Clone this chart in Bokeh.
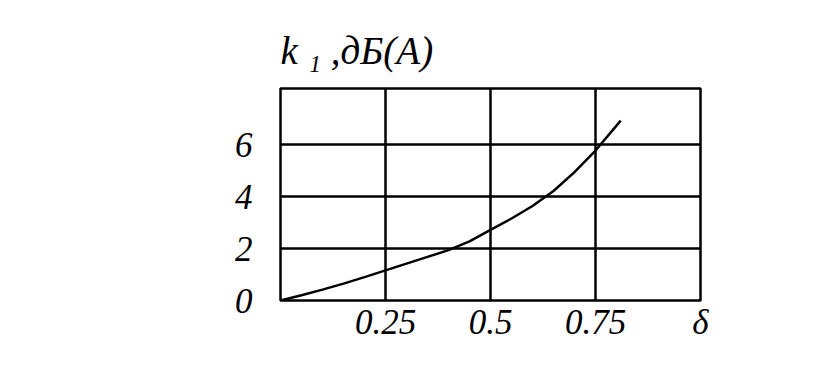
from bokeh.plotting import figure
from bokeh.models import FixedTicker
from bokeh.embed import file_html
from bokeh.resources import INLINE

# data
delta = [0.0, 0.05, 0.1, 0.15, 0.2, 0.25, 0.3, 0.35, 0.4, 0.45, 0.5,
         0.55, 0.6, 0.65, 0.7, 0.75, 0.81]
k1 = [0.0, 0.2, 0.42, 0.65, 0.9, 1.16, 1.42, 1.68, 1.94, 2.28, 2.72,
      3.16, 3.64, 4.22, 4.95, 5.78, 6.93]

x_ticks = [0.25, 0.5, 0.75, 1.0]
x_tick_labels = {0.25: "0.25", 0.5: "0.5", 0.75: "0.75", 1.0: "δ"}
y_ticks = [0, 2, 4, 6]
y_tick_labels = {0: "0", 2: "2", 4: "4", 6: "6"}
y_title = "k ₁ ,дБ(A)"

FONT = "Liberation Serif"

p = figure(width=814, height=367, output_backend="svg", toolbar_location=None,
           x_range=(0, 1.0), y_range=(0, 8.17),
           min_border_left=280, min_border_right=114,
           min_border_top=88, min_border_bottom=67)
p.background_fill_color = "white"
p.border_fill_color = "white"
p.outline_line_color = "black"
p.outline_line_width = 2.5

p.line(delta, k1, line_color="black", line_width=2.5)

for ax in (p.xaxis, p.yaxis):
    ax.axis_line_color = None
    ax.major_tick_line_color = None
    ax.minor_tick_line_color = None
    ax.major_label_text_font = FONT
    ax.major_label_text_font_style = "italic"
    ax.major_label_text_font_size = "35px"
    ax.major_label_text_color = "black"

p.xaxis.ticker = FixedTicker(ticks=x_ticks)
p.xaxis.major_label_overrides = x_tick_labels
p.xaxis.major_label_standoff = -4
p.yaxis.ticker = FixedTicker(ticks=y_ticks)
p.yaxis.major_label_standoff = 22
p.yaxis.major_label_overrides = y_tick_labels

p.xgrid.ticker = FixedTicker(ticks=[0.25, 0.5, 0.75])
p.ygrid.ticker = FixedTicker(ticks=[2, 4, 6])
for g in (p.xgrid, p.ygrid):
    g.grid_line_color = "black"
    g.grid_line_width = 2.5
    g.grid_line_alpha = 1.0

p.title.text = y_title
p.title.text_font = FONT
p.title.text_font_style = "italic"
p.title.text_font_size = "39px"
p.title.text_color = "black"
p.title.align = "left"
p.title.offset = 0
p.title.standoff = 34

open("out.html", "w").write(file_html(p, INLINE))
